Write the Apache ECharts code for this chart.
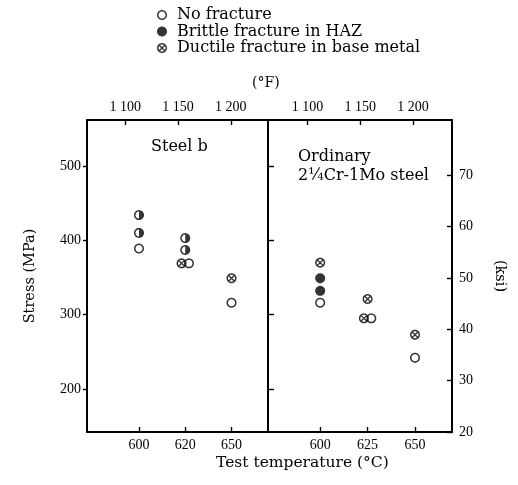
<!DOCTYPE html>
<html>
<head>
<meta charset="utf-8">
<script src="https://cdn.jsdelivr.net/npm/echarts@6/dist/echarts.min.js"></script>
<style>html,body{margin:0;padding:0;background:#fff;}#c{width:518px;height:485px;}</style>
</head>
<body>
<div id="c"></div>
<script>
// ---------------- data ----------------
// Left panel: Steel b (temperature categories as labelled on the chart, °C)
const tempsLeft = ['600', '620', '650'];
const steelB_none = [['600', 389], ['620', 369], ['650', 316]];
const steelB_brittle = [['600', 434], ['600', 410], ['620', 403], ['620', 387]];
const steelB_ductile = [['620', 369], ['650', 349]];
// Right panel: Ordinary 2¼Cr-1Mo steel (°C)
const tempsRight = [600, 625, 650];
const ord_none = [[600, 316], [625, 295], [650, 242]];
const ord_brittle = [[600, 349], [600, 332]];
const ord_ductile = [[600, 370], [625, 321], [625, 295], [650, 273]];
// tick values
const fTicks = [1100, 1150, 1200];
const mpaTicks = [200, 300, 400, 500];
const ksiTicks = [20, 30, 40, 50, 60, 70];
const legendNames = ['No fracture', 'Brittle fracture in HAZ', 'Ductile fracture in base metal'];

// ---------------- symbols ----------------
function circ(cx, cy, r, ccw, from, to) {
  const n = 48;
  from = from === undefined ? 0 : from;
  to = to === undefined ? Math.PI * 2 : to;
  let s = '';
  for (let i = 0; i <= n; i++) {
    const t = ccw ? to - (to - from) * i / n : from + (to - from) * i / n;
    const x = (cx + r * Math.cos(t)).toFixed(3), y = (cy + r * Math.sin(t)).toFixed(3);
    s += (i === 0 ? 'M' : 'L') + x + ',' + y + ' ';
  }
  return s + 'Z ';
}
const RING = circ(10, 10, 10, false) + circ(10, 10, 7.0, true);
const SYM_OPEN = 'path://' + RING;
const SYM_FILL = 'path://' + circ(10, 10, 10, false);
const SYM_CROSS = 'path://' + RING +
  'M3.1,5.0 L5.0,3.1 L16.9,15.0 L15.0,16.9 Z ' +
  'M15.0,3.1 L16.9,5.0 L5.0,16.9 L3.1,15.0 Z';
const SYM_HALF = 'path://' + RING + circ(10, 10, 7.0, false, -Math.PI / 2, Math.PI / 2);

const FN = '"Liberation Serif", "Times New Roman", serif';
const FT = '"DejaVu Serif", serif';
const BLACK = '#000';

function cToF(c) { return c * 1.8 + 32; }
function fmtThousands(v) { const s = String(v); return s.length === 4 ? s[0] + ' ' + s.slice(1) : s; }

// overlap handling: offset coincident ductile/open points side by side
function keyOf(p) { return p[0] + '|' + p[1]; }
function buildData(points, mapX, others, dir) {
  const set = new Set(others.map(keyOf));
  return points.map(p => {
    const d = { value: [mapX(p[0]), p[1]] };
    if (set.has(keyOf(p))) d.symbolOffset = [dir * 3.7, 0];
    return d;
  });
}
const idxLeft = t => tempsLeft.indexOf(t);
const idRight = t => t;

const lineStyle = { color: BLACK, width: 2 };
const tickStyle = { color: BLACK, width: 1.4 };
const numLabel = { color: BLACK, fontFamily: FN, fontSize: 14 };

function xAx(grid, pos, min, max, ticks, fmt) {
  return {
    gridIndex: grid, type: 'value', position: pos, min: min, max: max,
    axisLine: { show: true, onZero: false, lineStyle: lineStyle },
    axisTick: { show: true, inside: true, length: 5, customValues: ticks, lineStyle: tickStyle },
    axisLabel: Object.assign({ customValues: ticks, formatter: fmt, margin: 6 }, numLabel),
    splitLine: { show: false }
  };
}

const leftMin = -1.124, leftMax = 2.789;
const rightMinC = 572.5, rightMaxC = 669.5;
const leftFMin = 1063.8, leftFMax = 1235.2;

const option = {
  animation: false,
  backgroundColor: '#fff',
  title: [
    { text: '(°F)', left: 252, top: 76, padding: 0, textStyle: { fontFamily: FT, fontSize: 14, fontWeight: 'normal', color: BLACK } },
    { text: 'Steel b', left: 151, top: 139, padding: 0, textStyle: { fontFamily: FT, fontSize: 16, fontWeight: 'normal', color: BLACK } },
    { text: 'Ordinary\n2¼Cr-1Mo steel', left: 298, top: 147, padding: 0, textStyle: { fontFamily: FT, fontSize: 16, lineHeight: 19, fontWeight: 'normal', color: BLACK } },
    { text: 'Test temperature (°C)', left: 216, top: 455, padding: 0, textStyle: { fontFamily: FT, fontSize: 15.5, fontWeight: 'normal', color: BLACK } }
  ],
  legend: {
    orient: 'vertical', left: 152, top: 2, itemWidth: 10, itemHeight: 10, itemGap: 0.5,
    selectedMode: false,
    textStyle: { fontFamily: FT, fontSize: 16, lineHeight: 16, color: BLACK, padding: [0, 0, 0, 5] },
    data: [
      { name: legendNames[0], icon: SYM_OPEN },
      { name: legendNames[1], icon: SYM_FILL },
      { name: legendNames[2], icon: SYM_CROSS }
    ]
  },
  grid: [
    { left: 87, top: 120, width: 181, height: 312 },
    { left: 268, top: 120, width: 184, height: 312 }
  ],
  xAxis: [
    xAx(0, 'bottom', leftMin, leftMax, [0, 1, 2], v => tempsLeft[Math.round(v)]),
    xAx(0, 'top', leftFMin, leftFMax, fTicks, fmtThousands),
    xAx(1, 'bottom', rightMinC, rightMaxC, tempsRight, v => String(v)),
    xAx(1, 'top', cToF(rightMinC), cToF(rightMaxC), fTicks, fmtThousands)
  ],
  yAxis: [
    {
      gridIndex: 0, type: 'value', position: 'left', min: 142, max: 562,
      name: 'Stress (MPa)', nameLocation: 'middle', nameGap: 49,
      nameTextStyle: { fontFamily: FT, fontSize: 14.5, color: BLACK },
      axisLine: { show: true, onZero: false, lineStyle: lineStyle },
      axisTick: { show: true, inside: false, length: 4, customValues: mpaTicks, lineStyle: tickStyle },
      axisLabel: Object.assign({ customValues: mpaTicks, margin: 6 }, numLabel),
      splitLine: { show: false }
    },
    {
      gridIndex: 1, type: 'value', position: 'left', min: 142, max: 562,
      axisLine: { show: true, onZero: false, lineStyle: lineStyle },
      axisTick: { show: true, inside: true, length: 6, customValues: mpaTicks, lineStyle: tickStyle },
      axisLabel: { show: false },
      splitLine: { show: false }
    },
    {
      gridIndex: 1, type: 'value', position: 'right', min: 20, max: 80.8,
      name: '(ksi)', nameLocation: 'middle', nameGap: 40, nameRotate: -90,
      nameTextStyle: { fontFamily: FT, fontSize: 14.5, color: BLACK },
      axisLine: { show: true, onZero: false, lineStyle: lineStyle },
      axisTick: { show: true, inside: true, length: 5, customValues: ksiTicks, lineStyle: tickStyle },
      axisLabel: Object.assign({ customValues: ksiTicks, margin: 7 }, numLabel),
      splitLine: { show: false }
    }
  ],
  series: [
    // left panel
    { name: legendNames[0], type: 'scatter', xAxisIndex: 0, yAxisIndex: 0, symbol: SYM_OPEN, symbolSize: 10,
      itemStyle: { color: BLACK }, data: buildData(steelB_none, idxLeft, steelB_ductile, 1) },
    { name: legendNames[1], type: 'scatter', xAxisIndex: 0, yAxisIndex: 0, symbol: SYM_HALF, symbolSize: 10,
      itemStyle: { color: BLACK }, data: buildData(steelB_brittle, idxLeft, [], 0) },
    { name: legendNames[2], type: 'scatter', xAxisIndex: 0, yAxisIndex: 0, symbol: SYM_CROSS, symbolSize: 10,
      itemStyle: { color: BLACK }, data: buildData(steelB_ductile, idxLeft, steelB_none, -1) },
    // right panel
    { name: legendNames[0], type: 'scatter', xAxisIndex: 2, yAxisIndex: 1, symbol: SYM_OPEN, symbolSize: 10,
      itemStyle: { color: BLACK }, data: buildData(ord_none, idRight, ord_ductile, 1) },
    { name: legendNames[1], type: 'scatter', xAxisIndex: 2, yAxisIndex: 1, symbol: SYM_FILL, symbolSize: 10,
      itemStyle: { color: BLACK }, data: buildData(ord_brittle, idRight, [], 0) },
    { name: legendNames[2], type: 'scatter', xAxisIndex: 2, yAxisIndex: 1, symbol: SYM_CROSS, symbolSize: 10,
      itemStyle: { color: BLACK }, data: buildData(ord_ductile, idRight, ord_none, -1) }
  ]
};

const chart = echarts.init(document.getElementById('c'), null, { renderer: 'canvas' });
chart.setOption(option);
</script>
</body>
</html>
